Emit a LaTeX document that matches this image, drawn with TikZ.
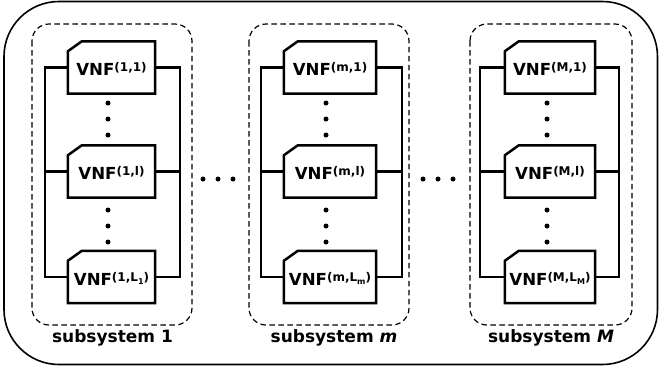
\documentclass[tikz,border=0pt]{standalone}
\usepackage{fontspec}
\setmainfont{DejaVu Sans}
\tikzset{
  vnf/.style={minimum height=52pt, inner sep=0pt, text height=16.4pt, text depth=0pt, font=\fontsize{16.6}{18}\selectfont\bfseries},
  conn/.style={line width=2.5pt, line cap=rect},
  outline/.style={line width=2.5pt, line join=miter},
  subbox/.style={dashed, dash pattern=on 5.5pt off 3.5pt, line width=1.2pt, rounded corners=17pt},
  sublabel/.style={font=\fontsize{17}{19}\selectfont\bfseries, inner sep=0pt},
  dot/.style={circle, fill=black, inner sep=0pt, minimum size=5pt}
}
\newcommand\sups[1]{\raisebox{4pt}{\fontsize{12}{12}\selectfont(#1)}}
\newcommand\subs[1]{\raisebox{-3pt}{\fontsize{8}{8}\selectfont #1}}
\newcommand\chbox[1]{\draw[outline] ([yshift=-10pt]#1.north west) -- ([xshift=14pt]#1.north west) -- (#1.north east) -- (#1.south east) -- (#1.south west) -- cycle;}
\begin{document}
\begin{tikzpicture}[x=1pt,y=-1pt]
\useasboundingbox (0,0) rectangle (659,373);
% outer box
\draw[line width=1.6pt, rounded corners=55pt] (4,1.5) rectangle (657.5,364.5);
% subsystem frames
\draw[subbox] (32,24) rectangle (192,325);
\draw[subbox] (249,24) rectangle (409,325);
\draw[subbox] (470,24) rectangle (632,325);
% subsystem 1
\node[vnf, minimum width=87pt] (a1) at (111.5,67.5) {VNF\sups{1,1}};
\node[vnf, minimum width=87pt] (a2) at (111.5,171.5) {VNF\sups{1,l}};
\node[vnf, minimum width=87pt] (a3) at (111.5,277) {VNF\sups{1,L\subs{1}}};
% subsystem m
\node[vnf, minimum width=92pt] (b1) at (330,67.5) {VNF\sups{m,1}};
\node[vnf, minimum width=92pt] (b2) at (330,171.5) {VNF\sups{m,l}};
\node[vnf, minimum width=92pt] (b3) at (330,277) {VNF\sups{m,L\subs{m}}};
% subsystem M
\node[vnf, minimum width=90pt] (c1) at (550,67.5) {VNF\sups{M,1}};
\node[vnf, minimum width=90pt] (c2) at (550,171.5) {VNF\sups{M,l}};
\node[vnf, minimum width=90pt] (c3) at (550,277) {VNF\sups{M,L\subs{M}}};
\foreach \n in {a1,a2,a3,b1,b2,b3,c1,c2,c3} {\chbox{\n}}
% bus coordinates
\coordinate (La) at (45,0);   \coordinate (Ra) at (180,0);
\coordinate (Lb) at (261,0);  \coordinate (Rb) at (402,0);
\coordinate (Lc) at (480,0);  \coordinate (Rc) at (619,0);
\foreach \s in {a,b,c} {
  \draw[conn] (\s1.west) -| (L\s |- \s3.west) -- (\s3.west);
  \draw[conn] (\s2.west) -- (L\s |- \s2.west);
  \draw[conn] (\s1.east) -| (R\s |- \s3.east) -- (\s3.east);
  \draw[conn] (\s2.east) -- (R\s |- \s2.east);
}
% vertical dots
\foreach \s/\x in {a/108,b/326,c/547} {
  \node[dot] (\s d1) at (\x,103) {};
  \node[dot] (\s d2) at (\x,119) {};
  \node[dot] (\s d3) at (\x,135) {};
  \node[dot] (\s e1) at (\x,210) {};
  \node[dot] (\s e2) at (\x,226) {};
  \node[dot] (\s e3) at (\x,242) {};
}
% horizontal dots
\node[dot] (h1) at (203,179) {};
\node[dot] (h2) at (218,179) {};
\node[dot] (h3) at (233,179) {};
\node[dot] (h4) at (423,179) {};
\node[dot] (h5) at (438,179) {};
\node[dot] (h6) at (453,179) {};
% labels
\node[sublabel, anchor=base] (s1) at (112.5,342.5) {subsystem 1};
\node[sublabel, anchor=base] (s2) at (334,342.5) {subsystem \textit{m}};
\node[sublabel, anchor=base] (s3) at (551,342.5) {subsystem \textit{M}};
\end{tikzpicture}
\end{document}
